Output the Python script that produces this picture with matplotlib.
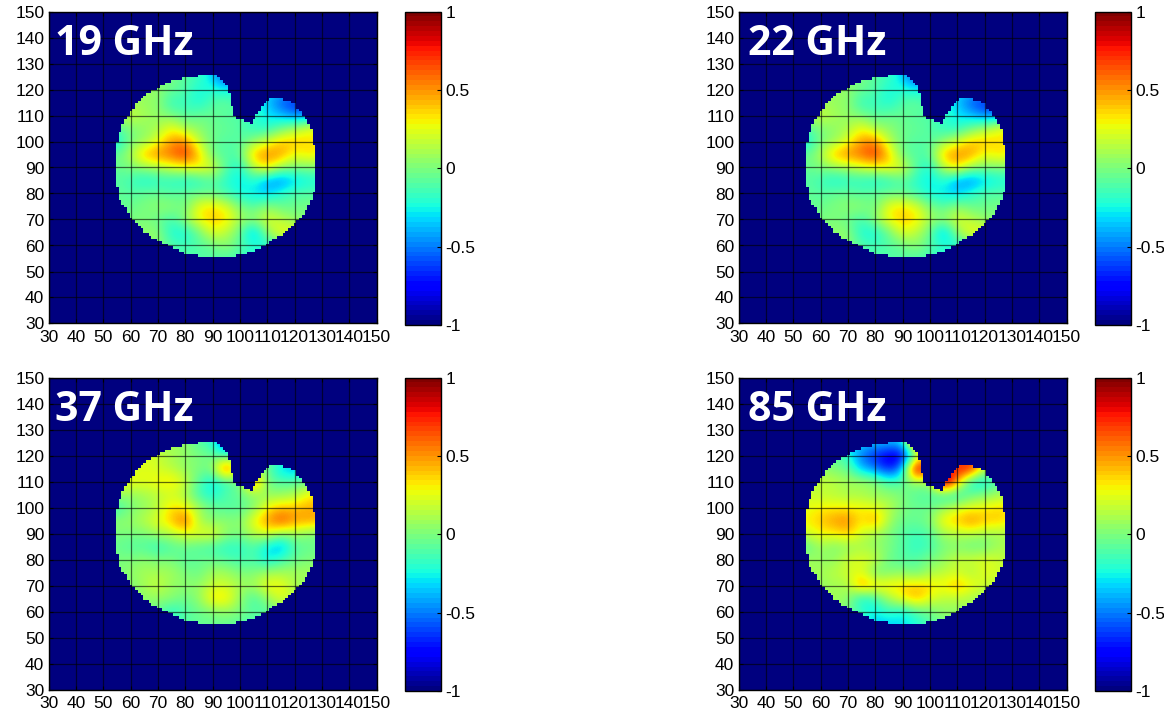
import numpy as np
import matplotlib
matplotlib.use("Agg")
import matplotlib.pyplot as plt
from matplotlib.colors import ListedColormap, Normalize
from matplotlib.cm import ScalarMappable

W, H = 1164, 714
plt.rcParams['font.family'] = ['Liberation Sans', 'DejaVu Sans']

panel_names = ['19 GHz', '22 GHz', '37 GHz', '85 GHz']
tick_values = list(range(30, 151, 10))
cbar_ticks = [-1, -0.5, 0, 0.5, 1]
cbar_labels = ['-1', '-0.5', '0', '0.5', '1']

# sample positions of the readings below
sample_x = [55, 60, 65, 70, 75, 80, 85, 90, 95, 100, 105, 110, 115, 120, 125, 130]
sample_y = [125, 120, 115, 110, 105, 100, 95, 90, 85, 80, 75, 70, 65, 60, 55]

values_19 = [
 [.0, .0, .0, .0, .0, -.1, -.15, -.35, -.65, -.4, -.3, -.3, -.3, -.3, -.3, -.3],
 [.0, .05, .1, .05, -.05, -.1, -.25, -.2, -.3, -.2, -.3, -.3, -.3, -.3, -.3, -.3],
 [.1, .1, .05, .05, -.2, -.15, -.25, -.1, -.05, -.15, -.2, -.35, -.6, -.7, -.7, -.7],
 [.1, .2, .1, .05, .0, -.1, -.05, -.05, -.1, -.1, -.15, -.3, -.35, -.5, -.45, -.3],
 [-.1, .0, .05, .1, .3, .1, .05, -.05, -.05, -.1, -.2, -.2, -.05, .1, .25, .3],
 [-.3, .0, .05, .25, .5, .55, .15, -.05, -.1, -.1, .05, .2, .4, .4, .35, .3],
 [-.05, .1, .45, .55, .6, .75, .4, -.05, -.1, -.1, .45, .55, .5, .25, .35, .3],
 [-.05, .0, .05, .1, .2, .25, .3, .25, -.1, -.25, .15, .35, .05, .0, .0, .0],
 [-.1, -.15, -.25, -.2, -.2, -.25, -.2, -.1, -.2, -.3, -.2, -.45, -.5, -.35, -.25, -.25],
 [-.05, -.1, -.05, -.05, -.1, -.05, -.05, -.05, -.15, -.25, -.3, -.35, -.2, -.1, -.1, -.1],
 [-.05, -.05, .0, .05, .05, -.05, .3, .35, .25, .0, -.1, .05, -.05, -.05, .0, .0],
 [-.05, .0, .0, -.05, -.15, .05, .3, .4, .35, .1, .05, .25, .15, .05, .0, .0],
 [.0, .0, .05, .05, -.25, -.25, -.05, .25, .15, -.05, -.45, .05, .3, .25, .1, .1],
 [.0, .0, .05, .05, -.1, -.15, -.1, -.05, .05, -.1, -.2, -.25, -.1, .05, .1, .1],
 [.0, .0, .0, .0, -.1, -.1, -.1, -.1, -.1, -.15, -.2, -.15, -.1, .0, .0, .0],
]

values_22 = [
 [.0, .0, .0, .0, .0, -.1, -.15, -.35, -.65, -.4, -.3, -.3, -.3, -.3, -.3, -.3],
 [.0, .05, .1, .05, -.05, -.1, -.25, -.2, -.3, -.2, -.3, -.3, -.3, -.3, -.3, -.3],
 [.1, .1, .05, .05, -.2, -.15, -.25, -.1, -.05, -.15, -.2, -.35, -.6, -.7, -.7, -.7],
 [.1, .2, .1, .05, .0, -.1, -.05, -.05, -.1, -.1, -.15, -.3, -.35, -.5, -.45, -.3],
 [-.1, .0, .05, .1, .3, .1, .05, -.05, -.05, -.1, -.2, -.2, -.05, .1, .25, .35],
 [-.3, .0, .05, .25, .5, .55, .15, -.05, -.1, -.1, .05, .2, .4, .4, .35, .3],
 [-.05, .1, .45, .55, .6, .75, .4, -.05, -.1, -.1, .45, .55, .5, .25, .35, .3],
 [-.05, .0, .05, .1, .2, .25, .3, .25, -.1, -.25, .15, .35, .05, .0, .0, .0],
 [-.1, -.15, -.25, -.2, -.2, -.25, -.2, -.1, -.2, -.3, -.2, -.45, -.5, -.35, -.25, -.25],
 [-.05, -.1, -.05, -.05, -.1, -.05, -.05, -.05, -.15, -.25, -.3, -.35, -.2, -.1, -.1, -.1],
 [-.05, -.05, .0, .05, .05, -.05, .3, .35, .25, .0, -.1, .05, -.05, -.05, .0, .0],
 [-.05, .0, .0, -.05, -.15, .05, .3, .4, .35, .1, .05, .25, .15, .05, .0, .0],
 [.0, .0, .05, .05, -.25, -.25, -.05, .25, .15, -.05, -.45, .05, .3, .25, .1, .1],
 [.0, .0, .05, .05, -.1, -.15, -.1, -.05, .05, -.1, -.2, -.25, -.1, .05, .1, .1],
 [.0, .0, .0, .0, -.1, -.1, -.1, -.1, -.1, -.15, -.2, -.15, -.1, .0, .0, .0],
]

values_37 = [
 [.0, .0, .0, .05, .1, .05, -.1, -.2, -.6, -.3, -.2, -.2, -.2, -.2, -.2, -.2],
 [.05, .1, .25, .2, .1, .05, .0, -.05, -.2, .0, .0, .0, -.1, -.1, -.1, -.1],
 [.2, .2, .25, .2, .15, .05, .0, .0, .85, .0, .1, -.05, -.35, -.45, -.2, -.1],
 [.25, .3, .25, .3, .35, .2, -.1, -.3, -.15, -.05, .7, -.05, -.1, -.1, -.05, .0],
 [.1, .05, .1, .15, .2, .1, -.15, -.25, -.1, -.05, .05, .05, .05, .1, .3, .35],
 [-.2, .0, .05, .15, .35, .3, .1, -.05, -.1, -.1, .0, .3, .4, .4, .45, .45],
 [.05, .05, .15, .25, .4, .65, .1, .0, .05, .0, .3, .5, .7, .5, .5, .45],
 [.0, .0, .0, .1, .15, .25, .25, .3, .05, .0, .15, .25, .05, .1, .0, .0],
 [-.05, -.1, -.1, -.2, -.1, -.05, -.1, -.15, -.2, -.2, -.1, -.3, -.45, -.1, -.05, -.05],
 [.0, .0, .05, .0, .0, -.1, -.05, -.05, -.1, -.15, -.1, -.3, -.15, -.05, .0, .0],
 [.0, .05, .1, .1, .1, .0, -.05, .1, .1, .0, .0, .1, .1, .1, .1, .1],
 [.0, .0, .1, .2, .05, .05, .05, .2, .2, .1, .1, .3, .3, .1, .05, .05],
 [.0, .0, .05, .05, .05, -.05, .05, .35, .35, .05, -.15, .05, .25, .15, .1, .1],
 [.0, .0, .0, -.05, -.25, -.1, -.05, .0, .05, .0, -.1, -.1, .0, .05, .05, .05],
 [.0, .0, .0, .0, -.1, -.1, -.05, -.05, -.05, -.1, -.1, -.05, .0, .0, .0, .0],
]

values_85 = [
 [-.3, -.3, -.3, -.3, -.3, -.35, -.35, -.35, .9, .9, .5, .5, .5, .5, .5, .5],
 [-.1, -.1, -.05, -.2, -.55, -.7, -.85, -.85, -.1, .5, .5, .5, .5, .5, .5, .5],
 [.1, .05, .0, -.05, -.4, -.5, -.75, -.45, 1.2, .5, .6, .8, .9, .1, .0, .0],
 [.1, .2, .15, .1, .1, .05, -.15, -.1, .1, .0, 1.3, .5, -.3, -.3, -.1, .0],
 [.2, .15, .15, .1, .1, .05, .05, .0, -.1, -.1, -.2, -.25, -.05, .0, .1, .1],
 [.25, .3, .3, .3, .3, .25, .15, .0, -.05, -.05, .05, .2, .25, .3, .35, .35],
 [.3, .4, .5, .55, .3, .5, .1, -.05, -.05, .0, .35, .4, .55, .4, .4, .3],
 [.2, .3, .3, .4, .2, .1, .0, -.1, -.15, -.1, .1, .15, .15, .1, .1, .1],
 [-.1, .1, .0, .05, .1, .05, .0, -.1, -.2, -.15, .0, .0, -.05, -.05, .1, .1],
 [.1, .05, .05, .2, .25, .2, -.05, -.1, -.1, .0, .05, .2, .2, .25, .2, .1],
 [.1, .1, .15, .2, .25, -.05, .0, .05, -.05, .1, .15, .2, .1, .25, .2, .2],
 [.0, .05, .1, .1, .55, .35, .35, .35, .4, .35, .3, .45, .3, .2, .15, .15],
 [.1, .1, .1, .05, -.3, -.15, .1, .3, .45, .25, .15, .15, .1, .05, .05, .05],
 [.0, .0, .05, .0, -.15, -.3, -.15, -.3, -.1, -.05, .05, .05, .1, .1, .1, .1],
 [.0, .0, .0, -.1, -.2, -.35, -.35, -.3, -.25, -.1, .0, .0, .0, .0, .0, .0],
]

panel_values = [values_19, values_22, values_37, values_85]

# footprint of the scan, one row per y
row_y = list(range(125, 55, -1))
span_left = [85, 79, 75, 73, 71, 70, 68, 66, 65, 64, 63, 62, 62, 61, 60, 60, 59, 58, 58, 57,
             57, 57, 56, 56, 56, 56, 55, 55, 55, 55, 55, 55, 55, 55, 55, 55, 55, 55, 55, 55,
             55, 55, 55, 56, 56, 56, 56, 56, 57, 57, 58, 59, 59, 60, 60, 61, 62, 63, 64, 65,
             65, 67, 68, 70, 72, 74, 76, 78, 80, 85]
span_right = [91, 92, 93, 94, 95, 95, 95, 96, 96, 115, 118, 120, 120, 121, 122, 122, 123, 124, 124, 125,
              125, 126, 126, 126, 126, 126, 126, 127, 127, 127, 127, 127, 127, 127, 127, 127, 127, 127, 127, 127,
              127, 127, 127, 127, 127, 126, 126, 126, 125, 125, 124, 124, 123, 123, 122, 121, 120, 119, 118, 117,
              116, 115, 113, 111, 110, 109, 107, 105, 102, 98]
gap_rows = [116, 115, 114, 113, 112, 111, 110, 109, 108, 107]
gap_left = [97, 97, 97, 98, 98, 98, 98, 99, 102, 104]
gap_right = [110, 109, 108, 107, 107, 106, 105, 105, 104, 104]

DARK = (0.0, 0.0, 0.5)
grid_axis = np.arange(30, 151)
outside = np.ones((grid_axis.size, grid_axis.size))
for y, l, r in zip(row_y, span_left, span_right):
    outside[y - 30, l - 30:r - 30 + 1] = np.nan
for y, l, r in zip(gap_rows, gap_left, gap_right):
    outside[y - 30, l - 30:r - 30 + 1] = 1
outside = np.ma.masked_invalid(outside)

jet64 = plt.get_cmap('jet', 64)
norm = Normalize(-1, 1)


def axes_px(left, top, right, bottom):
    return [left / W, 1 - bottom / H, (right - left) / W, (bottom - top) / H]


offsets = [(0, 0), (690, 0), (0, 366), (690, 366)]
fig = plt.figure(figsize=(W / 100, H / 100), dpi=100)

for name, vals, (dx, dy) in zip(panel_names, panel_values, offsets):
    ax = fig.add_axes(axes_px(48.5 + dx, 11.5 + dy, 376.5 + dx, 323.5 + dy))
    ax.set_facecolor(DARK)
    ax.imshow(np.array(vals), cmap='jet', norm=norm, interpolation='bicubic', aspect='auto',
              extent=(52.5, 132.5, 52.5, 127.5), zorder=1)
    ax.imshow(outside, cmap=ListedColormap([DARK]), vmin=0, vmax=1, interpolation='nearest',
              aspect='auto', origin='lower', extent=(29.5, 150.5, 29.5, 150.5), zorder=2)
    ax.set_xlim(30, 150)
    ax.set_ylim(30, 150)
    ax.set_xticks(tick_values)
    ax.set_yticks(tick_values)
    ax.tick_params(direction='in', length=3, width=0.8, top=True, right=True,
                   labelsize=12.5, pad=3, color='black')
    ax.tick_params(axis='x', pad=5)
    ax.grid(True, color='black', lw=0.9, alpha=0.6, zorder=3)
    ax.set_axisbelow(False)
    for s in ax.spines.values():
        s.set_linewidth(1.0)
        s.set_zorder(5)
    tx = 55 if dx == 0 else 748
    fig.text(tx / W, 1 - (55 + dy) / H, name, color='white',
             family='Open Sans', weight='bold', fontsize=29.5, ha='left', va='baseline', zorder=10)

    cax = fig.add_axes(axes_px(405 + dx, 11.5 + dy, 441 + dx, 325 + dy))
    cb = fig.colorbar(ScalarMappable(norm=norm, cmap=jet64), cax=cax)
    cb.set_ticks(cbar_ticks)
    cb.set_ticklabels(cbar_labels)
    cb.ax.tick_params(direction='in', length=3, width=0.8, labelsize=12.5, pad=3)
    cb.outline.set_linewidth(1.0)

fig.savefig('out.png', dpi=100)
